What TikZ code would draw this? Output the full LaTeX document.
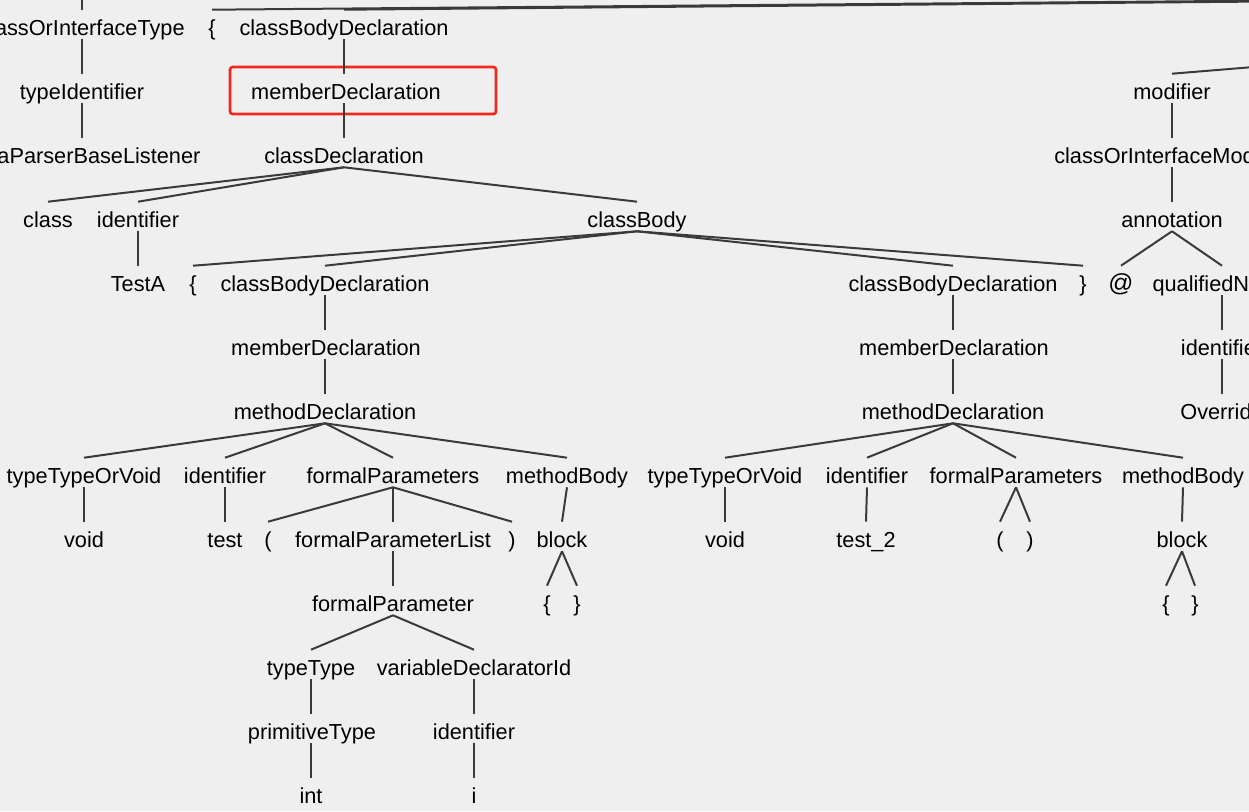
\documentclass[tikz,border=0pt]{standalone}
\usepackage{fontspec}
\setmainfont{Liberation Sans}
\definecolor{bgc}{RGB}{239,239,239}
\definecolor{edgec}{RGB}{58,58,58}
\definecolor{boxred}{RGB}{240,40,30}
\tikzset{
  t/.style={anchor=base, inner sep=0pt, text height=19.3pt, text depth=2.5pt,
    font=\fontsize{16.3}{19}\selectfont, text=black},
  edge/.style={draw=edgec, line width=1.5pt},
  hilite/.style={draw=boxred, line width=2pt, rounded corners=2pt}
}
\begin{document}
\begin{tikzpicture}[x=0.75pt,y=-0.75pt]
\useasboundingbox (0,0) rectangle (1249,811);
\fill[bgc] (0,0) rectangle (1249,811);
\clip (0,0) rectangle (1249,811);
% level 0 (y=28)
\node[t] (coit) at (82,35.7) {classOrInterfaceType};
\node[t] (lb0) at (212,35.7) {\{};
\node[t] (cbd0) at (344,35.7) {classBodyDeclaration};
% level 1 (y=92)
\node[t] (tid) at (82,99.7) {typeIdentifier};
\node[t] (md0) at (346,99.7) {memberDeclaration};
\node[t] (mod) at (1172,99.7) {modifier};
% level 2 (y=156)
\node[t] (jpbl) at (82,163.7) {JavaParserBaseListener};
\node[t] (cd) at (344,163.7) {classDeclaration};
\node[t] (coim) at (1172,163.7) {classOrInterfaceModifier};
% level 3 (y=220)
\node[t] (kw) at (48,227.7) {class};
\node[t] (id1) at (138,227.7) {identifier};
\node[t] (cb) at (637,227.7) {classBody};
\node[t] (ann) at (1172,227.7) {annotation};
% level 4 (y=284)
\node[t] (testa) at (138,291.7) {TestA};
\node[t] (lb1) at (193,291.7) {\{};
\node[t] (cbd1) at (325,291.7) {classBodyDeclaration};
\node[t] (cbd2) at (953,291.7) {classBodyDeclaration};
\node[t] (rb1) at (1083,291.7) {\}};
\node[t,font=\fontsize{18.5}{19}\selectfont] (at) at (1121,291.7) {@};
\node[t] (qn) at (1222,291.7) {qualifiedName};
% level 5 (y=348)
\node[t] (md1) at (326,355.7) {memberDeclaration};
\node[t] (md2) at (954,355.7) {memberDeclaration};
\node[t] (id2) at (1222,355.7) {identifier};
% level 6 (y=412)
\node[t] (mth1) at (325,419.7) {methodDeclaration};
\node[t] (mth2) at (953,419.7) {methodDeclaration};
\node[t] (ovr) at (1222,419.7) {Override};
% level 7 (y=476)
\node[t] (ttv1) at (84,483.7) {typeTypeOrVoid};
\node[t] (id3) at (225,483.7) {identifier};
\node[t] (fps1) at (393,483.7) {formalParameters};
\node[t] (mb1) at (567,483.7) {methodBody};
\node[t] (ttv2) at (725,483.7) {typeTypeOrVoid};
\node[t] (id4) at (867,483.7) {identifier};
\node[t] (fps2) at (1016,483.7) {formalParameters};
\node[t] (mb2) at (1183,483.7) {methodBody};
% level 8 (y=540)
\node[t] (void1) at (84,547.7) {void};
\node[t] (test1) at (225,547.7) {test};
\node[t] (lp1) at (268,547.7) {(};
\node[t] (fpl) at (393,547.7) {formalParameterList};
\node[t] (rp1) at (512,547.7) {)};
\node[t] (blk1) at (562,547.7) {block};
\node[t] (void2) at (725,547.7) {void};
\node[t] (test2) at (866,547.7) {test\_2};
\node[t] (lp2) at (1000,547.7) {(};
\node[t] (rp2) at (1030,547.7) {)};
\node[t] (blk2) at (1182,547.7) {block};
% level 9 (y=604)
\node[t] (fp) at (393,611.7) {formalParameter};
\node[t] (lb2) at (547,611.7) {\{};
\node[t] (rb2) at (577,611.7) {\}};
\node[t] (lb3) at (1166,611.7) {\{};
\node[t] (rb3) at (1195,611.7) {\}};
% level 10 (y=668)
\node[t] (tt) at (311,675.7) {typeType};
\node[t] (vdi) at (474,675.7) {variableDeclaratorId};
% level 11 (y=732)
\node[t] (pt) at (312,739.7) {primitiveType};
\node[t] (id5) at (474,739.7) {identifier};
% level 12 (y=796)
\node[t] (int) at (311,803.7) {int};
\node[t] (iv) at (474,803.7) {i};
% off-picture parents
\coordinate (topA) at (82,-30);
\coordinate (topB) at (4244,-25);
\coordinate (topC) at (1595,39);
% red highlight
\draw[hilite] (230,67) rectangle (496,114);
% edges
\path[edge] (coit.north) -- (topA);
\path[edge] (lb0.north) -- (topB);
\path[edge] (cbd0.north) -- (topB);
\path[edge] (mod.north) -- (topC);
\path[edge] (coit.south) -- (tid.north);
\path[edge] (tid.south) -- (jpbl.north);
\path[edge] (cbd0.south) -- (cbd0.south |- md0.north);
\path[edge] (cbd0.south |- md0.south) -- (cd.north);
\path[edge] (cd.south) -- (kw.north);
\path[edge] (cd.south) -- (id1.north);
\path[edge] (cd.south) -- (cb.north);
\path[edge] (id1.south) -- (testa.north);
\path[edge] (cb.south) -- (lb1.north);
\path[edge] (cb.south) -- (cbd1.north);
\path[edge] (cb.south) -- (cbd2.north);
\path[edge] (cb.south) -- (rb1.north);
\path[edge] (mod.south) -- (coim.north);
\path[edge] (coim.south) -- (ann.north);
\path[edge] (ann.south) -- (at.north);
\path[edge] (ann.south) -- (qn.north);
\path[edge] (qn.south) -- (id2.north);
\path[edge] (id2.south) -- (ovr.north);
\path[edge] (cbd1.south) -- (cbd1.south |- md1.north);
\path[edge] (cbd1.south |- md1.south) -- (mth1.north);
\path[edge] (cbd2.south) -- (cbd2.south |- md2.north);
\path[edge] (cbd2.south |- md2.south) -- (mth2.north);
\path[edge] (mth1.south) -- (ttv1.north);
\path[edge] (mth1.south) -- (id3.north);
\path[edge] (mth1.south) -- (fps1.north);
\path[edge] (mth1.south) -- (mb1.north);
\path[edge] (mth2.south) -- (ttv2.north);
\path[edge] (mth2.south) -- (id4.north);
\path[edge] (mth2.south) -- (fps2.north);
\path[edge] (mth2.south) -- (mb2.north);
\path[edge] (ttv1.south) -- (void1.north);
\path[edge] (id3.south) -- (test1.north);
\path[edge] (fps1.south) -- (lp1.north);
\path[edge] (fps1.south) -- (fpl.north);
\path[edge] (fps1.south) -- (rp1.north);
\path[edge] (mb1.south) -- (blk1.north);
\path[edge] (ttv2.south) -- (void2.north);
\path[edge] (id4.south) -- (test2.north);
\path[edge] (fps2.south) -- (lp2.north);
\path[edge] (fps2.south) -- (rp2.north);
\path[edge] (mb2.south) -- (blk2.north);
\path[edge] (fpl.south) -- (fp.north);
\path[edge] (blk1.south) -- (lb2.north);
\path[edge] (blk1.south) -- (rb2.north);
\path[edge] (blk2.south) -- (lb3.north);
\path[edge] (blk2.south) -- (rb3.north);
\path[edge] (fp.south) -- (tt.north);
\path[edge] (fp.south) -- (vdi.north);
\path[edge] (tt.south) -- (tt.south |- pt.north);
\path[edge] (tt.south |- pt.south) -- (int.north);
\path[edge] (vdi.south) -- (id5.north);
\path[edge] (id5.south) -- (iv.north);
\end{tikzpicture}
\end{document}
